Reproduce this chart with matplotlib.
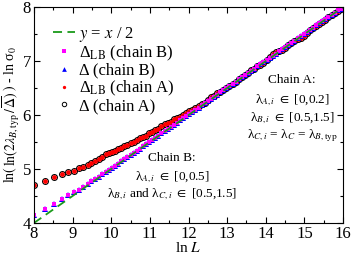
import matplotlib.pyplot as plt
from matplotlib.lines import Line2D
from matplotlib.ticker import MultipleLocator

plt.rcParams['font.family'] = ['Liberation Serif', 'DejaVu Serif']
plt.rcParams['mathtext.fontset'] = 'stix'

# --- dados ---
lnL = [8.00, 8.30, 8.53, 8.72, 8.89, 9.03, 9.16, 9.28, 9.39, 9.49,
       9.59, 9.68, 9.77, 9.86, 9.94, 10.02, 10.10, 10.18, 10.26, 10.34,
       10.42, 10.50, 10.58, 10.66, 10.74, 10.82, 10.90, 10.98, 11.06, 11.14,
       11.22, 11.30, 11.38, 11.46, 11.54, 11.62, 11.70, 11.78, 11.86, 11.94,
       12.02, 12.10, 12.18, 12.26, 12.34, 12.42, 12.50, 12.58, 12.66, 12.74,
       12.82, 12.90, 12.98, 13.06, 13.14, 13.22, 13.30, 13.38, 13.46, 13.54,
       13.62, 13.70, 13.78, 13.86, 13.94, 14.02, 14.10, 14.18, 14.26, 14.34,
       14.42, 14.50, 14.58, 14.66, 14.74, 14.82, 14.90, 14.98, 15.06, 15.14,
       15.22, 15.30, 15.38, 15.46, 15.54, 15.62, 15.70, 15.78, 15.86, 15.94,
       16.00]

delta_A = [4.70, 4.78, 4.86, 4.91, 4.94, 4.97, 5.01, 5.04, 5.08, 5.12,
           5.15, 5.19, 5.23, 5.27, 5.29, 5.31, 5.34, 5.37, 5.39, 5.42,
           5.44, 5.48, 5.50, 5.54, 5.57, 5.60, 5.62, 5.66, 5.68, 5.72,
           5.75, 5.80, 5.83, 5.85, 5.88, 5.92, 5.94, 5.97, 6.01, 6.04,
           6.07, 6.10, 6.13, 6.17, 6.20, 6.23, 6.27, 6.33, 6.36, 6.40,
           6.43, 6.47, 6.51, 6.54, 6.58, 6.62, 6.66, 6.70, 6.74, 6.78,
           6.83, 6.86, 6.90, 6.93, 6.97, 7.02, 7.07, 7.13, 7.16, 7.18,
           7.21, 7.25, 7.29, 7.33, 7.37, 7.40, 7.42, 7.46, 7.52, 7.58,
           7.62, 7.65, 7.69, 7.73, 7.77, 7.82, 7.86, 7.90, 7.93, 7.96,
           7.99]

delta_B = [4.14, 4.26, 4.35, 4.44, 4.51, 4.57, 4.62, 4.67, 4.72, 4.77,
           4.81, 4.86, 4.90, 4.94, 4.98, 5.02, 5.06, 5.10, 5.14, 5.18,
           5.22, 5.26, 5.30, 5.34, 5.38, 5.42, 5.46, 5.50, 5.54, 5.58,
           5.62, 5.66, 5.70, 5.74, 5.78, 5.82, 5.86, 5.90, 5.94, 5.98,
           6.02, 6.06, 6.10, 6.14, 6.18, 6.22, 6.26, 6.30, 6.34, 6.38,
           6.42, 6.46, 6.50, 6.54, 6.58, 6.62, 6.66, 6.70, 6.74, 6.78,
           6.82, 6.86, 6.90, 6.94, 6.98, 7.02, 7.06, 7.10, 7.14, 7.18,
           7.22, 7.26, 7.30, 7.34, 7.38, 7.42, 7.46, 7.50, 7.54, 7.58,
           7.62, 7.66, 7.70, 7.74, 7.78, 7.82, 7.86, 7.90, 7.94, 7.97,
           8.00]

# Delta_LB coincide com Delta na resolucao da figura
delta_lb_A = delta_A
delta_lb_B = delta_B

ref_x = [8, 16]
ref_y = [4, 8]

fig = plt.figure(figsize=(3.53, 2.54), dpi=100)
ax = fig.add_axes([0.096, 0.122, 0.876, 0.850])

ax.plot(lnL, delta_A, 'o', mfc='none', mec='black', ms=4.2, mew=0.8)
ax.plot(lnL, delta_lb_A, 'o', color='#ff0000', ms=3.4, mew=0)
ax.plot(lnL, delta_B, '^', color='#0000ff', ms=5.0, mew=0)
ax.plot(lnL, delta_lb_B, 's', color='#ff00ff', ms=3.3, mew=0)
ax.plot(ref_x, ref_y, '--', color='#1a9a1a', lw=1.3, dashes=(5, 3))

ax.set_xlim(8, 16)
ax.set_ylim(4, 8)
ax.xaxis.set_major_locator(MultipleLocator(1))
ax.xaxis.set_minor_locator(MultipleLocator(0.5))
ax.yaxis.set_major_locator(MultipleLocator(1))
ax.yaxis.set_minor_locator(MultipleLocator(0.5))
ax.tick_params(which='both', direction='in', top=True, right=True, labelsize=12, pad=2)
ax.tick_params(which='major', length=4.5, width=0.8)
ax.tick_params(which='minor', length=2.5, width=0.8)

ax.set_xlabel('ln $L$', fontsize=11, labelpad=-0.5)
ax.set_ylabel(r'ln$(\,\overline{\mathrm{ln}(2\lambda_{B,\mathrm{typ}}\,/\,\overline{\Delta})}\,)$ - ln σ$_0$',
              fontsize=10)
ax.yaxis.set_label_coords(-0.037, 0.5)

handles = [
    Line2D([], [], ls='--', color='#1a9a1a', lw=1.3, dashes=(5, 3)),
    Line2D([], [], ls='none', marker='s', color='#ff00ff', ms=2.6, mew=0),
    Line2D([], [], ls='none', marker='^', color='#0000ff', ms=3.4, mew=0),
    Line2D([], [], ls='none', marker='o', color='#ff0000', ms=2.4, mew=0),
    Line2D([], [], ls='none', marker='o', mfc='none', mec='black', ms=3.2, mew=0.7),
]
labels = ['$y$ = $x$ / 2', 'Δ$_{\\mathrm{LB}}$ (chain B)', 'Δ (chain B)',
          'Δ$_{\\mathrm{LB}}$ (chain A)', 'Δ (chain A)']
ax.legend(handles, labels, loc='upper left', frameon=False, fontsize=12,
          numpoints=1, handlelength=1.3, handletextpad=0.25, labelspacing=0.0,
          borderaxespad=0.0, bbox_to_anchor=(0.04, 0.95))

# anotacoes
fs = 9.5
ax.text(14.68, 6.65, 'Chain A:', ha='center', va='center', fontsize=fs)
ax.text(14.68, 6.28, 'λ$_{A,i}$ $\\in$ [0,0.2]', ha='center', va='center', fontsize=fs)
ax.text(14.68, 5.94, 'λ$_{B,i}$ $\\in$ [0.5,1.5]', ha='center', va='center', fontsize=fs)
ax.text(14.68, 5.62, 'λ$_{C,i}$ = λ$_C$ = λ$_{B,\\mathrm{typ}}$', ha='center', va='center', fontsize=fs)

ax.text(11.58, 5.20, 'Chain B:', ha='center', va='center', fontsize=fs)
ax.text(11.58, 4.85, 'λ$_{A,i}$ $\\in$ [0,0.5]', ha='center', va='center', fontsize=fs)
ax.text(11.58, 4.53, 'λ$_{B,i}$ and λ$_{C,i}$ $\\in$ [0.5,1.5]', ha='center', va='center', fontsize=fs)

fig.savefig('out.png', dpi=100)
